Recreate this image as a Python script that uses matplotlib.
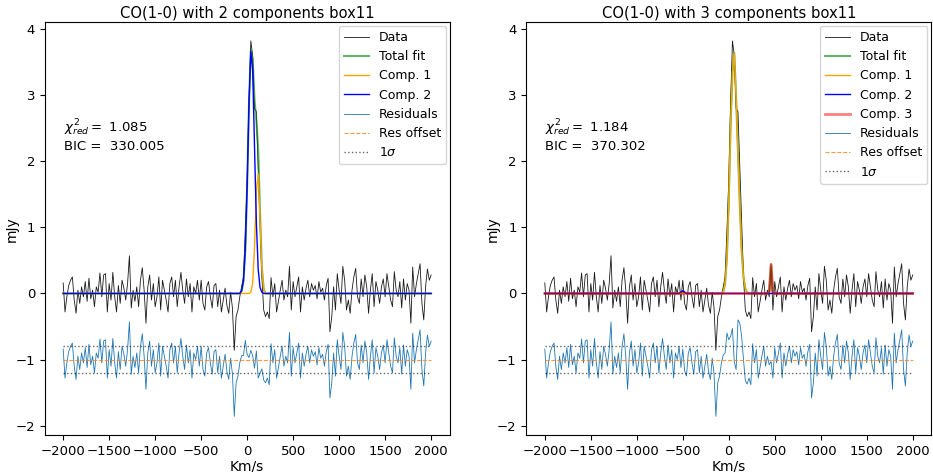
import numpy as np
import matplotlib.pyplot as plt

# velocity channels (km/s) and the observed spectrum (mJy)
velocity = np.arange(-2000, 2001, 20)
flux = [
    0.16, -0.28, -0.05, 0.12, 0.20,
    0.25, -0.10, -0.30, 0.05, -0.15,
    0.10, -0.05, 0.18, -0.12, 0.23,
    -0.08, 0.05, -0.20, 0.10, 0.02,
    0.31, -0.05, 0.28, 0.30, -0.28,
    0.15, -0.10, 0.32, -0.05, -0.28,
    0.12, -0.15, 0.20, 0.08, -0.10,
    0.15, 0.57, -0.22, 0.05, -0.12,
    0.10, -0.20, 0.20, 0.39, 0.05,
    -0.45, 0.10, 0.28, -0.10, 0.15,
    -0.20, -0.05, 0.25, -0.25, 0.20,
    0.05, -0.10, -0.28, 0.15, 0.25,
    -0.05, 0.20, -0.20, 0.10, 0.32,
    0.05, -0.15, 0.22, -0.05, 0.15,
    -0.28, 0.10, 0.00, 0.20, -0.10,
    0.20, -0.15, -0.25, 0.10, 0.18,
    -0.05, -0.22, 0.12, 0.15, -0.20,
    0.05, -0.28, -0.10, 0.08, -0.18,
    -0.30, 0.02, -0.22, -0.86, -0.35,
    -0.25, -0.05, 0.10, 0.25, 0.95,
    1.70, 2.90, 3.82, 3.60, 2.80,
    2.75, 1.90, 1.00, 0.25, -0.25,
    -0.35, -0.28, -0.38, 0.24, -0.05,
    0.15, -0.28, -0.12, 0.05, 0.20,
    -0.10, 0.05, -0.05, 0.41, -0.25,
    0.18, -0.05, 0.10, 0.25, -0.28,
    0.10, -0.10, 0.08, 0.20, -0.05,
    0.15, 0.05, 0.12, -0.08, 0.18,
    0.02, 0.08, -0.10, 0.12, 0.23,
    -0.58, -0.35, 0.10, -0.25, 0.30,
    0.05, -0.15, 0.41, 0.20, -0.25,
    -0.10, -0.30, 0.05, 0.25, 0.38,
    -0.05, -0.15, 0.22, -0.05, 0.28,
    0.10, -0.30, 0.05, 0.30, -0.20,
    0.18, 0.05, -0.15, 0.10, 0.22,
    -0.05, 0.30, 0.10, -0.10, -0.20,
    0.33, 0.05, -0.05, 0.18, -0.22,
    0.22, -0.10, 0.15, 0.05, -0.45,
    0.40, -0.05, 0.15, 0.30, 0.45,
    -0.15, -0.40, 0.10, 0.37, 0.20,
    0.28,
]

# fitted components, non-zero channels only (velocity -> mJy)
fit2_comp1 = {40: 0.02, 60: 0.16, 80: 0.69, 100: 1.54, 120: 1.81,
              140: 1.12, 160: 0.37, 180: 0.06}
fit2_comp2 = {-60: 0.04, -40: 0.19, -20: 0.66, 0: 1.62, 20: 2.87, 40: 3.66,
              60: 3.38, 80: 2.24, 100: 1.08, 120: 0.37, 140: 0.09, 160: 0.02}

fit3_comp1 = {-60: 0.03, -40: 0.15, -20: 0.55, 0: 1.40, 20: 2.55, 40: 3.35,
              60: 3.64, 80: 2.95, 100: 2.15, 120: 1.35, 140: 0.65,
              160: 0.25, 180: 0.07, 200: 0.02}
fit3_comp2 = {-520: 0.02, -500: 0.04, -480: 0.02}
fit3_comp3 = {440: 0.03, 460: 0.44, 480: 0.03}

chi2_red = [1.085, 1.184]
bic = [330.005, 370.302]
res_offset = -1.0
sigma = 0.2


def on_grid(comp):
    return np.array([comp.get(v, 0.0) for v in velocity])


flux = np.array(flux)

fig, axes = plt.subplots(1, 2, figsize=(9.33, 4.72), dpi=100)
fig.subplots_adjust(left=0.048, right=0.998, bottom=0.078, top=0.953, wspace=0.19)

fits = [
    [('Comp. 1', on_grid(fit2_comp1), 'orange', 1.0, 1.0),
     ('Comp. 2', on_grid(fit2_comp2), 'blue', 1.0, 1.0)],
    [('Comp. 1', on_grid(fit3_comp1), 'orange', 1.0, 1.0),
     ('Comp. 2', on_grid(fit3_comp2), 'blue', 1.0, 1.0),
     ('Comp. 3', on_grid(fit3_comp3), 'red', 2.0, 0.5)],
]

v_edges = [velocity[0], velocity[-1]]
for k, ax in enumerate(axes):
    comps = fits[k]
    total = sum(c[1] for c in comps)
    resid = flux - total + res_offset

    ax.plot(velocity, flux, color='k', lw=0.6, alpha=0.9, label='Data')
    ax.plot(velocity, total, color='green', lw=1.5, alpha=0.6, label='Total fit')
    for name, vals, col, lw, al in comps:
        ax.plot(velocity, vals, color=col, lw=lw, alpha=al, label=name)
    ax.plot(velocity, resid, color='C0', lw=0.6, label='Residuals')
    ax.plot(v_edges, [res_offset] * 2, color='C1', ls='--', lw=0.8, alpha=0.8,
            label='Res offset')
    ax.plot(v_edges, [res_offset + sigma] * 2, color='k', ls=':', lw=1.0,
            alpha=0.6, label=r'1$\sigma$')
    ax.plot(v_edges, [res_offset - sigma] * 2, color='k', ls=':', lw=1.0, alpha=0.6)

    ax.text(0.047, 0.745, r'$\chi^2_{red} = $ ' + f'{chi2_red[k]:.3f}',
            transform=ax.transAxes, fontsize=9.5, va='center')
    ax.text(0.047, 0.70, f'BIC =  {bic[k]:.3f}', transform=ax.transAxes,
            fontsize=9.5, va='center')

    ax.set_title(f'CO(1-0) with {len(comps)} components box11', fontsize=10.6, pad=3)
    ax.set_xlabel('Km/s', fontsize=10, labelpad=1)
    ax.set_ylabel('mJy', fontsize=10)
    ax.yaxis.set_label_coords(-0.065, 0.5)
    ax.tick_params(labelsize=9.5)
    ax.legend(loc='upper right', fontsize=9, handlelength=2.0, borderaxespad=0.3,
              labelspacing=0.5)

fig.savefig('out.png')
